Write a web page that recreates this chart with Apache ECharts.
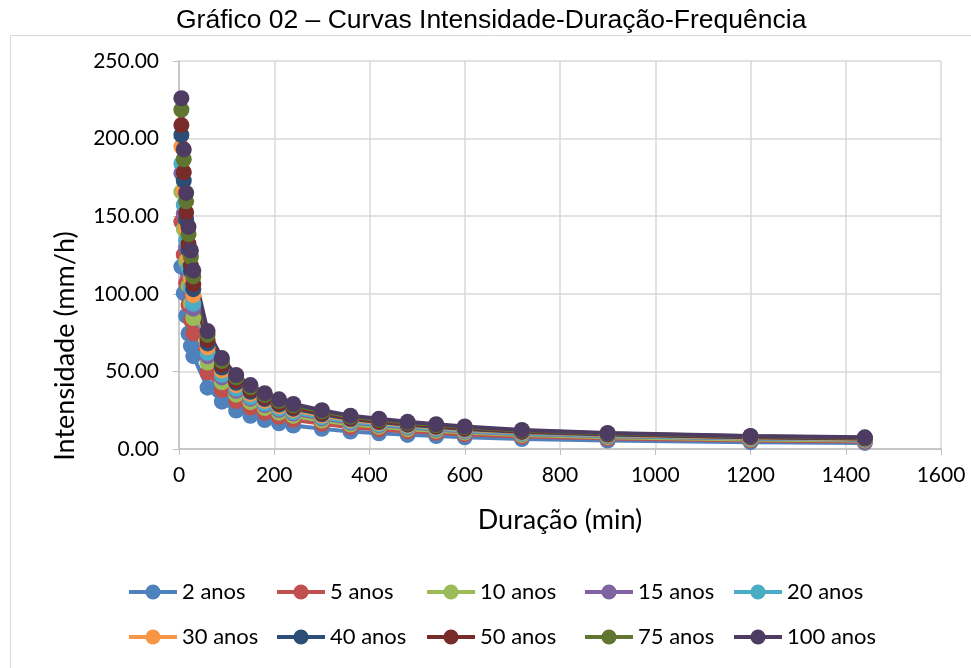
<!DOCTYPE html>
<html>
<head>
<meta charset="utf-8">
<script src="https://cdn.jsdelivr.net/npm/echarts@6/dist/echarts.min.js"></script>
<style>html,body{margin:0;padding:0;background:#fff}#c{width:971px;height:668px}</style>
</head>
<body>
<div id="c"></div>
<script>
const durations = [5,10,15,20,25,30,60,90,120,150,180,210,240,300,360,420,480,540,600,720,900,1200,1440];
const seriesNames = ['2 anos','5 anos','10 anos','15 anos','20 anos','30 anos','40 anos','50 anos','75 anos','100 anos'];
const colors = ['#4F81BD','#C0504D','#9BBB59','#8064A2','#4BACC6','#F79646','#2C4D75','#772C2A','#5F7530','#4D3B62'];
const yTicks = [0,50,100,150,200,250];
const xTicks = [0,200,400,600,800,1000,1200,1400,1600];

const i2   = [117.5,100.4,85.8,74.4,66.5,59.8,39.5,30.5,24.8,21.4,18.7,16.6,15.1,13.0,11.2,10.1,9.1,8.3,7.5,6.4,5.4,4.4,3.9];
const i5   = [146.5,125.2,107.0,92.8,82.9,74.6,49.3,38.0,30.9,26.7,23.3,20.7,18.8,16.2,14.0,12.6,11.3,10.4,9.4,8.0,6.7,5.5,4.9];
const i10  = [165.8,141.7,121.1,105.0,93.8,84.4,55.7,43.0,35.0,30.2,26.4,23.4,21.3,18.3,15.8,14.3,12.8,11.7,10.6,9.0,7.6,6.2,5.5];
const i15  = [177.7,151.8,129.7,112.5,100.5,90.4,59.7,46.1,37.5,32.4,28.3,25.1,22.8,19.7,16.9,15.3,13.8,12.5,11.3,9.7,8.2,6.7,5.9];
const i20  = [184.0,157.2,134.4,116.5,104.1,93.6,61.9,47.8,38.8,33.5,29.3,26.0,23.6,20.4,17.5,15.8,14.3,13.0,11.7,10.0,8.5,6.9,6.1];
const i30  = [194.8,166.5,142.3,123.4,110.3,99.1,65.5,50.6,41.1,35.5,31.0,27.5,25.0,21.6,18.6,16.7,15.1,13.8,12.4,10.6,9.0,7.3,6.5];
const i40  = [202.3,172.9,147.7,128.1,114.5,103.0,68.0,52.5,42.7,36.9,32.2,28.6,26.0,22.4,19.3,17.4,15.7,14.3,12.9,11.0,9.3,7.6,6.7];
const i50  = [208.7,178.3,152.4,132.1,118.1,106.2,70.2,54.2,44.0,38.0,33.2,29.5,26.8,23.1,19.9,17.9,16.2,14.7,13.3,11.4,9.6,7.8,6.9];
const i75  = [218.6,186.7,159.6,138.4,123.7,111.2,73.5,56.7,46.1,39.8,34.8,30.9,28.1,24.2,20.8,18.8,16.9,15.4,14.0,11.9,10.0,8.2,7.3];
const i100 = [226.0,193.0,165.0,143.1,127.9,115.0,76.0,58.6,47.7,41.2,36.0,32.0,29.0,25.0,21.5,19.5,17.5,16.0,14.5,12.3,10.3,8.4,7.5];
const allValues = [i2,i5,i10,i15,i20,i30,i40,i50,i75,i100];

const chart = echarts.init(document.getElementById('c'), null, {renderer:'canvas'});
const legendLeft = [122,270,420,578,727];
const legendTop = [576,621];
const legends = seriesNames.map((n,k)=>({
  data:[n], left: legendLeft[k%5], top: legendTop[Math.floor(k/5)],
  itemWidth:48, itemHeight:19, itemGap:0,
  lineStyle:{width:4},
  textStyle:{fontFamily:'Lato', fontSize:22, color:'#000', padding:[0,0,0,0]}
}));
const series = seriesNames.map((n,k)=>({
  name:n, type:'line', symbol:'circle', symbolSize:16,
  data: durations.map((d,j)=>[d, allValues[k][j]]),
  itemStyle:{color:colors[k]}, lineStyle:{color:colors[k], width:4},
  emphasis:{disabled:true}, animation:false
}));
chart.setOption({
  animation:false,
  backgroundColor:'#fff',
  title:{text:'Gráfico 02 – Curvas Intensidade-Duração-Frequência', left:171, top:2,
    textStyle:{fontFamily:'Liberation Sans', fontSize:26.5, fontWeight:'normal', color:'#000'}},
  graphic:[{type:'rect', shape:{x:10.5,y:35.5,width:1000,height:700}, style:{fill:null, stroke:'#d9d9d9', lineWidth:1}, silent:true}],
  legend: legends,
  grid:{left:179, right:30, top:61, bottom:219},
  xAxis:{type:'value', min:xTicks[0], max:xTicks[xTicks.length-1], interval:200,
    name:'Duração (min)', nameLocation:'middle', nameGap:58,
    nameTextStyle:{fontFamily:'Lato', fontSize:27, color:'#000'},
    axisLine:{show:true, onZero:false, lineStyle:{color:'#bfbfbf', width:1.5}},
    axisTick:{show:true, length:6, lineStyle:{color:'#bfbfbf'}},
    axisLabel:{fontFamily:'Lato', fontSize:21, color:'#000', margin:16, formatter:v=>String(v)},
    splitLine:{show:true, lineStyle:{color:'#d9d9d9', width:1.5}}},
  yAxis:{type:'value', min:yTicks[0], max:yTicks[yTicks.length-1], interval:50,
    name:'Intensidade (mm/h)', nameLocation:'middle', nameGap:100,
    nameTextStyle:{fontFamily:'Lato', fontSize:27, color:'#000', padding:[0,182,0,0]},
    axisLine:{show:true, lineStyle:{color:'#bfbfbf', width:1.5}},
    axisTick:{show:true, length:6, lineStyle:{color:'#bfbfbf'}},
    axisLabel:{fontFamily:'Lato', fontSize:21, color:'#000', margin:20, formatter:v=>v.toFixed(2)},
    splitLine:{show:true, lineStyle:{color:'#d9d9d9', width:1.5}}},
  series: series
});
</script>
</body>
</html>
